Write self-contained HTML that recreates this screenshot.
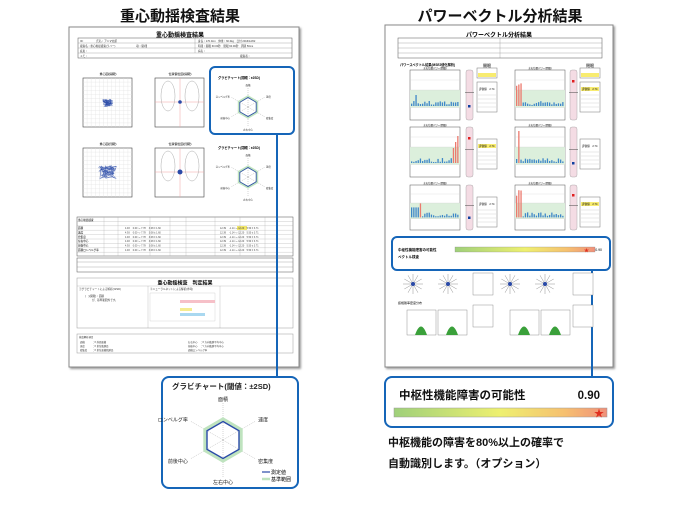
<!DOCTYPE html>
<html><head><meta charset="utf-8">
<style>
html,body{margin:0;padding:0;background:#fff;}
body{width:700px;height:500px;overflow:hidden;font-family:"Liberation Sans","Noto Sans CJK JP",sans-serif;}
svg text{font-family:"Liberation Sans","Noto Sans CJK JP",sans-serif;}
</style></head><body>
<svg id="s" width="700" height="500" viewBox="0 0 700 500" xmlns="http://www.w3.org/2000/svg">
<defs>
<linearGradient id="g" x1="0" x2="1" y1="0" y2="0">
<stop offset="0" stop-color="#9fd07a"/><stop offset="0.5" stop-color="#eef070"/><stop offset="0.8" stop-color="#f6c070"/><stop offset="1" stop-color="#f0907a"/>
</linearGradient>
<filter id="sh"><feDropShadow dx="1.5" dy="1.5" stdDeviation="1" flood-color="#999"/></filter>
</defs>

<text x="180" y="21" text-anchor="middle" font-size="15" font-weight="bold" fill="#111">重心動揺検査結果</text>
<text x="500" y="21" text-anchor="middle" font-size="15" font-weight="bold" fill="#111">パワーベクトル分析結果</text>

<rect x="69" y="27" width="230" height="340" fill="#fff" stroke="#888" stroke-width="1" filter="url(#sh)"/>
<text x="180" y="37" text-anchor="middle" font-size="6" font-weight="bold">重心動揺検査結果</text>
<rect x="78" y="38" width="214" height="20" fill="none" stroke="#555" stroke-width="0.5"/>
<line x1="78" y1="43" x2="292" y2="43" stroke="#777" stroke-width="0.3"/>
<line x1="78" y1="48" x2="292" y2="48" stroke="#777" stroke-width="0.3"/>
<line x1="78" y1="53" x2="292" y2="53" stroke="#777" stroke-width="0.3"/>
<line x1="195" y1="38" x2="195" y2="53" stroke="#777" stroke-width="0.3"/>
<g font-size="2.6" fill="#333">
<text x="80" y="42">ID:　　　　　氏名：アニマ太郎</text><text x="198" y="42">身長：170.0cm　体重：60.0kg　日付 2016/12/02</text>
<text x="80" y="47">検査名：重心動揺検査(ラバー)　　　　　　　　項：開/閉</text><text x="198" y="47">時間：開眼 60.00秒　閉眼 60.00秒　周期 50ms</text>
<text x="80" y="52">疾患：</text><text x="198" y="52">病名：</text><text x="80" y="57">メモ：</text><text x="240" y="57">検査者：</text>
</g>

<g id="lcharts"></g>

<rect x="77" y="217" width="216" height="39" fill="none" stroke="#555" stroke-width="0.5"/>
<rect x="237" y="226" width="10" height="4" fill="#f5e96a"/>
<g id="ltab"></g>
<rect x="77" y="258" width="216" height="14" fill="none" stroke="#555" stroke-width="0.5"/>
<line x1="77" y1="262" x2="293" y2="262" stroke="#777" stroke-width="0.3"/>
<line x1="77" y1="267" x2="293" y2="267" stroke="#777" stroke-width="0.3"/>

<rect x="77" y="278" width="216" height="50" fill="none" stroke="#999" stroke-width="0.5"/>
<line x1="77" y1="286" x2="293" y2="286" stroke="#999" stroke-width="0.3"/>
<text x="185" y="284.5" text-anchor="middle" font-size="5" font-weight="bold">重心動揺検査　判定結果</text>
<line x1="148" y1="286" x2="148" y2="328" stroke="#999" stroke-width="0.3"/>
<line x1="220" y1="286" x2="220" y2="328" stroke="#999" stroke-width="0.3"/>
<g font-size="2.6" fill="#333"><text x="79" y="290">①グラビチャートによる解析(±2SD)</text><text x="150" y="290">②ニューラルネットによる解析(参考)</text>
<text x="85" y="297">(　)(開眼)：面積</text><text x="92" y="301">が、基準範囲外です。</text></g>
<rect x="150" y="293" width="65" height="28" fill="none" stroke="#bbb" stroke-width="0.3"/>
<rect x="180" y="300" width="35" height="3" fill="#f6c0c8"/>
<rect x="180" y="308" width="12" height="3" fill="#f5ec90"/>
<rect x="180" y="313" width="25" height="3" fill="#a9d8f0"/>
<rect x="77" y="334" width="216" height="19" fill="none" stroke="#999" stroke-width="0.5"/>
<g font-size="2.4" fill="#333"><text x="79" y="338">検査解析項目</text><text x="80" y="343">面積　　　：X 外周面積</text><text x="80" y="347">速度　　　：X 単位軌跡長</text><text x="80" y="351">密集度　　：X 単位面積軌跡長</text>
<text x="188" y="343">左右中心　：X 方向軌跡平均中心</text><text x="188" y="347">前後中心　：Y 方向軌跡平均中心</text><text x="188" y="351">面積ロンベルグ率</text></g>

<rect x="210" y="67" width="84" height="67" rx="5" fill="none" stroke="#1565b8" stroke-width="2"/>
<line x1="277" y1="134" x2="277" y2="378" stroke="#1565b8" stroke-width="2"/>

<rect x="162" y="377" width="136" height="111" rx="7" fill="#fff" stroke="#1565b8" stroke-width="2"/>
<g id="bigradar"></g>

<rect x="385" y="25" width="228" height="342" fill="#fff" stroke="#888" stroke-width="1" filter="url(#sh)"/>
<text x="499" y="37" text-anchor="middle" font-size="6" font-weight="bold">パワーベクトル分析結果</text>
<rect x="398" y="38" width="204" height="20" fill="none" stroke="#555" stroke-width="0.5"/>
<line x1="398" y1="43" x2="602" y2="43" stroke="#777" stroke-width="0.3"/>
<line x1="398" y1="48" x2="602" y2="48" stroke="#777" stroke-width="0.3"/>
<line x1="398" y1="53" x2="602" y2="53" stroke="#777" stroke-width="0.3"/>
<line x1="500" y1="38" x2="500" y2="58" stroke="#777" stroke-width="0.3"/>
<text x="400" y="66" font-size="3.2" font-weight="bold">パワースペクトル結果(MSE2値化解析)</text>
<g id="rcharts"></g>

<rect x="392" y="237" width="218" height="33" rx="5" fill="#fff" stroke="#1565b8" stroke-width="2"/>
<text x="398" y="251" font-size="3.5" font-weight="bold">中枢性機能障害の可能性</text>
<rect x="455" y="247" width="140" height="5" fill="url(#g)" stroke="#888" stroke-width="0.3"/>
<text x="584" y="252" font-size="5" fill="#e03020">★</text>
<text x="602" y="251" font-size="3.5" text-anchor="end">0.90</text>
<text x="398" y="258" font-size="3.5" font-weight="bold">ベクトル検査</text>
<line x1="592" y1="270" x2="592" y2="378" stroke="#1565b8" stroke-width="2"/>
<g id="rbottom"></g>

<rect x="385" y="377" width="228" height="50" rx="7" fill="#fff" stroke="#1565b8" stroke-width="2"/>
<text x="399" y="399" font-size="11.5" font-weight="bold" fill="#111">中枢性機能障害の可能性</text>
<text x="600" y="399" font-size="11.5" font-weight="bold" text-anchor="end" fill="#111">0.90</text>
<rect x="394" y="408" width="213" height="9" fill="url(#g)" stroke="#999" stroke-width="0.5"/>
<text x="594" y="417" font-size="10" fill="#e03020">★</text>
<text x="388" y="446" font-size="11" font-weight="bold" fill="#111">中枢機能の障害を80%以上の確率で</text>
<text x="388" y="467" font-size="11" font-weight="bold" fill="#111">自動識別します。（オプション）</text>
</svg>
<script>
const NS="http://www.w3.org/2000/svg";
function el(p,t,a,txt){const e=document.createElementNS(NS,t);for(const k in a)e.setAttribute(k,a[k]);if(txt!==undefined)e.textContent=txt;document.getElementById(p).appendChild(e);return e;}
function radar(p,cx,cy,r,fs,labels,lw){
  const ang=[-90,-30,30,90,150,210];
  for(let i=0;i<6;i++){const a=ang[i]*Math.PI/180;el(p,'line',{x1:cx,y1:cy,x2:cx+r*Math.cos(a),y2:cy+r*Math.sin(a),stroke:'#999','stroke-width':0.4,'stroke-dasharray':'1,1'});}
  const pts=(k)=>ang.map(d=>{const a=d*Math.PI/180;return (cx+k*r*Math.cos(a)).toFixed(1)+','+(cy+k*r*Math.sin(a)).toFixed(1)}).join(' ');
  el(p,'polygon',{points:pts(0.55),fill:'none',stroke:'#bfe3bf','stroke-width':lw*3});
  el(p,'polygon',{points:pts(0.5),fill:'none',stroke:'#2a4aa8','stroke-width':lw});
  if(labels){const L=['面積','速度','密集度','左右中心','前後中心','ロンベルグ率'];
   const off=[[0,-r-2,'middle'],[r*0.95,-r*0.5,'start'],[r*0.95,r*0.62,'start'],[0,r+fs+2,'middle'],[-r*0.95,r*0.62,'end'],[-r*0.95,-r*0.5,'end']];
   L.forEach((t,i)=>el(p,'text',{x:cx+off[i][0],y:cy+off[i][1],'font-size':fs,'text-anchor':off[i][2],fill:'#222'},t));}
}
el('bigradar','text',{x:172,y:389,'font-size':7.5,'font-weight':'bold',fill:'#222'},'グラビチャート(閾値：±2SD)');
radar('bigradar',223,440,37,5,true,1.4);
el('bigradar','line',{x1:262,y1:472,x2:270,y2:472,stroke:'#2a4aa8','stroke-width':1.2});
el('bigradar','text',{x:271,y:474,'font-size':5},'測定値');
el('bigradar','line',{x1:262,y1:479,x2:270,y2:479,stroke:'#bfe3bf','stroke-width':2.5});
el('bigradar','text',{x:271,y:481,'font-size':5},'基準範囲');
[[72,'開眼'],[142,'閉眼']].forEach(([y,t],ri)=>{
  el('lcharts','text',{x:108,y:y+3,'font-size':3,'text-anchor':'middle'},'重心図('+t+')');
  el('lcharts','rect',{x:83,y:y+6,width:49,height:49,fill:'#fff',stroke:'#444','stroke-width':0.6});
  for(let i=1;i<12;i++){el('lcharts','line',{x1:83+i*49/12,y1:y+6,x2:83+i*49/12,y2:y+55,stroke:'#ddd','stroke-width':0.3});el('lcharts','line',{x1:83,y1:y+6+i*49/12,x2:132,y2:y+6+i*49/12,stroke:'#ddd','stroke-width':0.3});}
  let d='M107.5 '+(y+30);for(let i=0;i<60;i++){d+=' L'+(107.5+(Math.random()-0.5)*(ri?18:10)).toFixed(1)+' '+(y+30.5+(Math.random()-0.5)*(ri?14:8)).toFixed(1);}
  el('lcharts','path',{d:d,fill:'none',stroke:'#2a4aa8','stroke-width':0.35});
  el('lcharts','text',{x:180,y:y+3,'font-size':3,'text-anchor':'middle'},'位置偏位図('+t+')');
  el('lcharts','rect',{x:155,y:y+6,width:49,height:49,fill:'#fff',stroke:'#444','stroke-width':0.6});
  el('lcharts','line',{x1:180,y1:y+6,x2:180,y2:y+55,stroke:'#f0a0a0','stroke-width':0.5});
  el('lcharts','line',{x1:155,y1:y+30,x2:204,y2:y+30,stroke:'#f0a0a0','stroke-width':0.5});
  el('lcharts','ellipse',{cx:168,cy:y+24,rx:7,ry:15,fill:'none',stroke:'#aaa','stroke-width':0.5});
  el('lcharts','ellipse',{cx:192,cy:y+24,rx:7,ry:15,fill:'none',stroke:'#aaa','stroke-width':0.5});
  el('lcharts','circle',{cx:180,cy:y+30,r:ri?2.5:1.8,fill:'#2a4aa8'});
  el('lcharts','text',{x:218,y:y+7,'font-size':3.2,'font-weight':'bold'},'グラビチャート('+t+'：±2SD)');
  radar('lcharts',248,y+35,19,2.4,true,0.8);
});
for(let i=0;i<9;i++){el('ltab','line',{x1:77,y1:217+i*4.4,x2:293,y2:217+i*4.4,stroke:'#999','stroke-width':0.25});}
[104,118,150,170,186,215,240,265].forEach(x=>el('ltab','line',{x1:x,y1:217,x2:x,y2:256,stroke:'#999','stroke-width':0.25}));
['面積','速度','密集度','左右中心','前後中心','面積ロンベルグ率'].forEach((t,i)=>{el('ltab','text',{x:78,y:229+i*4.4,'font-size':2.6},t);
 el('ltab','text',{x:125,y:229+i*4.4,'font-size':2.4,fill:'#444'},'4.93　 0.00 ～ 7.78　 3.08 ± 1.60');
 el('ltab','text',{x:220,y:229+i*4.4,'font-size':2.4,fill:'#444'},'12.39　 -1.14 ～ 12.20　5.50 ± 3.71');});
el('ltab','text',{x:78,y:221,'font-size':2.6},'重心動揺検査');
const rows=[70,127,185];
rows.forEach((y,ri)=>{[[410,466,477],[515,570,580]].forEach(([cx,sx,bx],ci)=>{
  const h=ri==2?45:50;
  el('rcharts','text',{x:cx+25,y:y-1,'font-size':2.4,'text-anchor':'middle'},'左右位置パワー(開眼)');
  el('rcharts','rect',{x:cx,y:y,width:50,height:h,fill:'#fff',stroke:'#555','stroke-width':0.5});
  el('rcharts','rect',{x:cx,y:y+h*0.4,width:50,height:h*0.35,fill:'#dcefdc'});
  [0.2,0.4,0.75].forEach(f=>el('rcharts','line',{x1:cx,y1:y+h*f,x2:cx+50,y2:y+h*f,stroke:'#ccc','stroke-width':0.3}));
  const base=y+h*0.72;
  for(let i=0;i<22;i++){let v=1+Math.random()*4;let red=false;
    if(ci==1&&ri!=1&&i<3){v=18+Math.random()*14;red=true;}
    if(ci==1&&ri==1&&i==1){v=32;red=true;}
    if(ci==0&&ri==1&&i>=19){v=15+(i-19)*6;red=true;}
    if(ci==0&&ri==2&&i==4){v=14;red=true;}
    if(ci==0&&ri==2&&i<4)v=10;
    if(ci==0&&ri==0&&i==2)v=11;
    el('rcharts','rect',{x:cx+1+i*2.2,y:base-v,width:1.3,height:v,fill:red?'#ec7a6e':'#3f88c8'});}
  el('rcharts','rect',{x:sx,y:y,width:7,height:h,rx:2,fill:'#f4dce4',stroke:'#999','stroke-width':0.4});
  el('rcharts','line',{x1:sx-1,y1:y+h*0.45,x2:sx+8,y2:y+h*0.45,stroke:'#444','stroke-width':0.5});
  const red=(ci==1&&ri!=1)||(ci==0&&ri==1);
  el('rcharts','rect',{x:sx+2,y:red?y+h*0.2:y+h*0.7,width:2.5,height:2.5,fill:red?'#e02020':'#1040a0'});
  el('rcharts','rect',{x:bx,y:y+12,width:20,height:30,fill:'#fff',stroke:'#777','stroke-width':0.5});
  el('rcharts','rect',{x:bx+1,y:y+17,width:18,height:4,fill:red?'#f8ec70':'#fff'});
  el('rcharts','text',{x:bx+2,y:y+20,'font-size':2.6},'評価値　2.74');
  for(let k=0;k<4;k++)el('rcharts','line',{x1:bx+1,y1:y+25+k*4,x2:bx+19,y2:y+25+k*4,stroke:'#bbb','stroke-width':0.3});
});});
[[477,'開眼'],[580,'閉眼']].forEach(([x,t])=>{el('rcharts','text',{x:x+10,y:67,'font-size':4,'text-anchor':'middle'},t);
 el('rcharts','rect',{x:x,y:68,width:20,height:10,fill:'#fff',stroke:'#777','stroke-width':0.5});
 el('rcharts','rect',{x:x+1,y:73,width:18,height:4,fill:'#f8ec70'});});
[[403],[438],[500],[535]].forEach(([x])=>{
  for(let i=0;i<12;i++){const a=i*Math.PI/6;el('rbottom','line',{x1:x+10,y1:284,x2:x+10+10*Math.cos(a),y2:284+10*Math.sin(a),stroke:'#777','stroke-width':0.4});}
  el('rbottom','circle',{cx:x+10,cy:284,r:2,fill:'#2a4aa8'});});
[473,573].forEach(x=>{el('rbottom','rect',{x:x,y:273,width:20,height:22,fill:'#fff',stroke:'#777','stroke-width':0.4});
 el('rbottom','rect',{x:x,y:305,width:20,height:22,fill:'#fff',stroke:'#777','stroke-width':0.4});});
el('rbottom','text',{x:398,y:304,'font-size':3},'振幅確率密度分布');
[407,438,510,541].forEach(x=>{el('rbottom','rect',{x:x,y:310,width:29,height:25,fill:'#fff',stroke:'#777','stroke-width':0.4});
 el('rbottom','path',{d:`M${x+8} 335 Q${x+14} 318 ${x+20} 335Z`,fill:'#3aa03a'});});
</script>
</body></html>
